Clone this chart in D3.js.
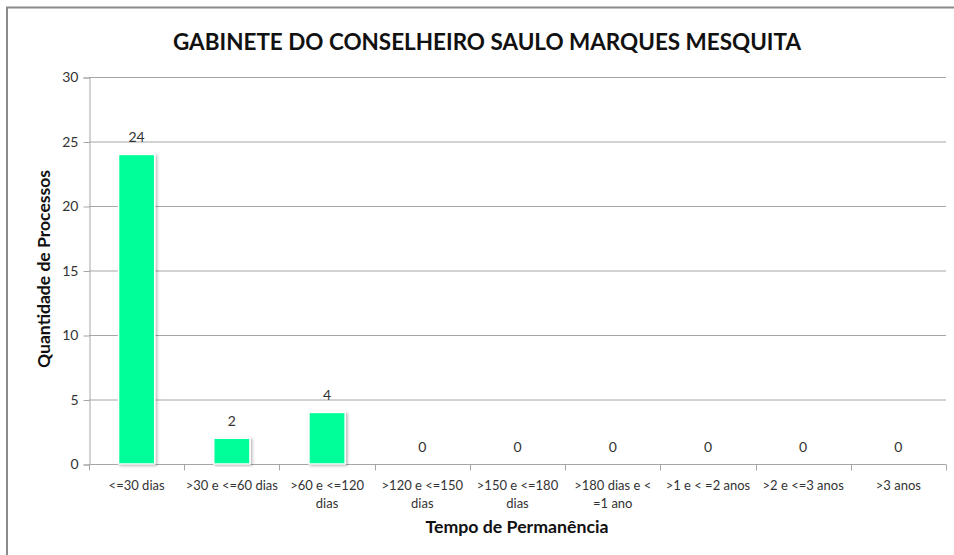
<!DOCTYPE html>
<html>
<head>
<meta charset="utf-8">
<script src="https://cdn.jsdelivr.net/npm/d3@7"></script>
<style>
  body { margin: 0; background: #fff; }
  svg { display: block; font-family: Lato, "Open Sans", sans-serif; }
</style>
</head>
<body>
<div id="chart"></div>
<script>
var categories = [
    ["<=30 dias"],
    [">30 e <=60 dias"],
    [">60 e <=120", "dias"],
    [">120 e <=150", "dias"],
    [">150 e <=180", "dias"],
    [">180 dias e <", "=1 ano"],
    [">1 e < =2 anos"],
    [">2 e <=3 anos"],
    [">3 anos"]
];
var values = [24, 2, 4, 0, 0, 0, 0, 0, 0];
var yTicks = [0, 5, 10, 15, 20, 25, 30];

var width = 954, height = 555;
var margin = {left: 89, right: 8, top: 77, bottom: 91};

var svg = d3.select('#chart')
            .append('svg')
            .attr('width', width)
            .attr('height', height);

// frame (only left + top edges visible in reference)
svg.append('path')
    .attr('d', 'M7,' + height + ' L7,7.5 L' + width + ',7.5')
    .attr('fill', 'none')
    .attr('stroke', '#8a8a8a')
    .attr('stroke-width', 2);

var defs = svg.append('defs');
var f = defs.append('filter').attr('id', 'shadow')
    .attr('x', '-30%').attr('y', '-10%').attr('width', '160%').attr('height', '120%');
f.append('feDropShadow')
    .attr('dx', 1.5).attr('dy', 1)
    .attr('stdDeviation', 1.5)
    .attr('flood-color', '#000')
    .attr('flood-opacity', 0.3);

var x = d3.scaleBand()
    .domain(d3.range(categories.length))
    .range([margin.left, width - margin.right]);

var y = d3.scaleLinear()
    .domain([0, 30])
    .range([height - margin.bottom, margin.top]);

// grid
svg.append('g').selectAll('line')
    .data(yTicks.filter(d => d > 0))
    .enter().append('line')
    .attr('x1', margin.left).attr('x2', width - margin.right)
    .attr('y1', d => y(d) + 0.5).attr('y2', d => y(d) + 0.5)
    .attr('stroke', '#a6a6a6');

// y axis
var yAxis = svg.append('g')
    .attr('transform', 'translate(' + (margin.left + 0.5) + ',0.5)')
    .call(d3.axisLeft(y).tickValues(yTicks).tickSize(6).tickPadding(5));
yAxis.select('.domain').attr('stroke', '#a6a6a6');
yAxis.selectAll('.tick line').attr('stroke', '#a6a6a6');
yAxis.selectAll('.tick text').attr('font-size', 14).attr('fill', '#333')
    .attr('font-family', 'Lato, sans-serif');

// x axis
var xAxis = svg.append('g')
    .attr('transform', 'translate(0,' + (y(0) + 0.5) + ')');
xAxis.append('line')
    .attr('x1', margin.left).attr('x2', width - margin.right)
    .attr('stroke', '#a6a6a6');
xAxis.selectAll('.tk')
    .data(d3.range(categories.length + 1))
    .enter().append('line')
    .attr('x1', d => Math.round(margin.left + d * x.bandwidth()) + 0.5)
    .attr('x2', d => Math.round(margin.left + d * x.bandwidth()) + 0.5)
    .attr('y1', 0).attr('y2', 6)
    .attr('stroke', '#a6a6a6');

var lbl = xAxis.selectAll('.lbl')
    .data(categories)
    .enter().append('text')
    .attr('text-anchor', 'middle')
    .attr('font-size', 13)
    .attr('fill', '#333');
lbl.each(function(d, i){
    var t = d3.select(this);
    d.forEach(function(line, j){
        t.append('tspan')
            .attr('x', x(i) + x.bandwidth() / 2)
            .attr('y', 25 + j * 18)
            .text(line);
    });
});

// bars
var bw = x.bandwidth() * 0.38;
svg.append('g').selectAll('rect')
    .data(values)
    .enter().append('rect')
    .attr('x', (d, i) => x(i) + (x.bandwidth() - bw) / 2)
    .attr('y', d => y(d))
    .attr('width', bw)
    .attr('height', d => y(0) - y(d))
    .attr('fill', '#00ff99')
    .attr('stroke', '#fff')
    .attr('stroke-width', 1.5)
    .attr('filter', 'url(#shadow)')
    .style('display', d => d > 0 ? null : 'none');

// value labels
svg.append('g').selectAll('text')
    .data(values)
    .enter().append('text')
    .attr('x', (d, i) => x(i) + x.bandwidth() / 2)
    .attr('y', d => y(d) - 12)
    .attr('text-anchor', 'middle')
    .attr('font-size', 14)
    .attr('fill', '#333')
    .text(d => d);

// title
svg.append('text')
    .attr('x', 487).attr('y', 50)
    .attr('text-anchor', 'middle')
    .attr('font-size', 23)
    .attr('font-weight', 'bold')
    .attr('fill', '#111')
    .attr('textLength', 628)
    .attr('lengthAdjust', 'spacingAndGlyphs')
    .text('GABINETE DO CONSELHEIRO SAULO MARQUES MESQUITA');

// axis titles
svg.append('text')
    .attr('transform', 'translate(50,269) rotate(-90)')
    .attr('text-anchor', 'middle')
    .attr('font-size', 17)
    .attr('font-weight', 'bold')
    .attr('fill', '#111')
    .attr('textLength', 198)
    .attr('lengthAdjust', 'spacingAndGlyphs')
    .text('Quantidade de Processos');

svg.append('text')
    .attr('x', 517).attr('y', 533)
    .attr('text-anchor', 'middle')
    .attr('font-size', 17)
    .attr('font-weight', 'bold')
    .attr('fill', '#111')
    .attr('textLength', 183)
    .attr('lengthAdjust', 'spacingAndGlyphs')
    .text('Tempo de Permanência');
</script>
</body>
</html>
